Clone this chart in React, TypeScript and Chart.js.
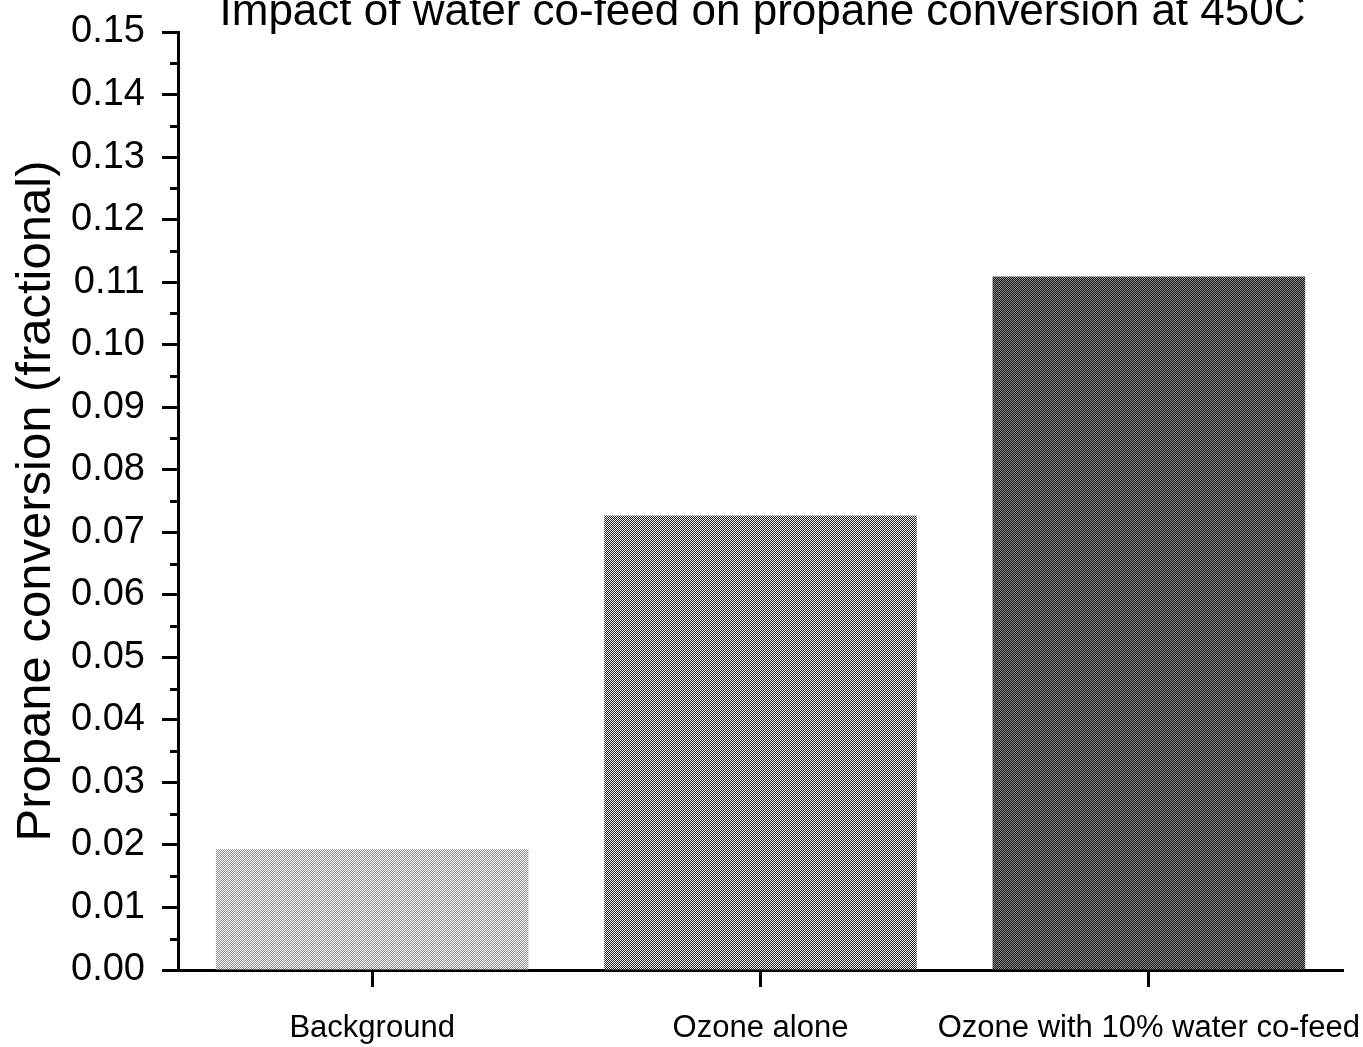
import React, { useEffect, useRef } from "react";
import { Chart, registerables } from "chart.js";

Chart.register(...registerables);

const TITLE = "Impact of water co-feed on propane conversion at 450C";
const Y_TITLE = "Propane conversion (fractional)";
const categories = ["Background", "Ozone alone", "Ozone with 10% water co-feed"];
const conversion = [0.0193, 0.0727, 0.1109];
const Y_MIN = 0;
const Y_MAX = 0.15;
const Y_STEP = 0.01;

// Two-tone 2x2 checker tiles give the halftone look of each bar.
const barTones: [string, string][] = [
  ["#ffffff", "#8c8c8c"],
  ["#f4f4f4", "#222222"],
  ["#8a8a8a", "#161616"],
];

const FONT = '"Liberation Sans", Arial, Helvetica, sans-serif';

function makeChecker(a: string, b: string): CanvasPattern | string {
  const tile = document.createElement("canvas");
  tile.width = 2;
  tile.height = 2;
  const c = tile.getContext("2d");
  if (!c) return b;
  c.fillStyle = a;
  c.fillRect(0, 0, 2, 2);
  c.fillStyle = b;
  c.fillRect(1, 0, 1, 1);
  c.fillRect(0, 1, 1, 1);
  const p = c.createPattern(tile, "repeat");
  return p || b;
}

// Short minor ticks halfway between the labelled y ticks.
const minorTicks = {
  id: "minorTicks",
  afterDraw(chart: any) {
    const y = chart.scales.y;
    const ctx = chart.ctx;
    const ticks = y.ticks;
    ctx.save();
    ctx.strokeStyle = "#000";
    ctx.lineWidth = 3;
    for (let i = 0; i < ticks.length - 1; i++) {
      const v = (ticks[i].value + ticks[i + 1].value) / 2;
      const py = Math.round(y.getPixelForValue(v)) + 0.5;
      ctx.beginPath();
      ctx.moveTo(y.right - 8, py);
      ctx.lineTo(y.right, py);
      ctx.stroke();
    }
    ctx.restore();
  },
};

// Chart heading, sitting right at the top edge of the canvas.
const topTitle = {
  id: "topTitle",
  afterDraw(chart: any) {
    const { ctx, chartArea } = chart;
    ctx.save();
    ctx.fillStyle = "#000";
    ctx.font = `44px ${FONT}`;
    ctx.textAlign = "center";
    ctx.textBaseline = "alphabetic";
    ctx.fillText(TITLE, (chartArea.left + chartArea.right) / 2 + 2, 25);
    ctx.restore();
  },
};

export default function App() {
  const canvasRef = useRef<HTMLCanvasElement | null>(null);

  useEffect(() => {
    const canvas = canvasRef.current;
    if (!canvas) return;
    const fills = barTones.map(([a, b]) => makeChecker(a, b));

    const chart = new Chart(canvas, {
      type: "bar",
      data: {
        labels: categories,
        datasets: [
          {
            data: conversion,
            backgroundColor: fills as any,
            borderWidth: 0,
            barPercentage: 0.805,
            categoryPercentage: 1,
          },
        ],
      },
      options: {
        animation: false,
        responsive: true,
        maintainAspectRatio: false,
        layout: { padding: { top: 32, right: 20, bottom: 0, left: 0 } },
        plugins: {
          legend: { display: false },
          tooltip: { enabled: false },
          title: { display: false },
        },
        scales: {
          x: {
            z: 1,
            offset: true,
            grid: {
              offset: false,
              drawOnChartArea: false,
              drawTicks: true,
              tickLength: 17,
              tickWidth: 3,
              tickColor: "#000",
            },
            border: { display: true, color: "#000", width: 3 },
            ticks: {
              color: "#000",
              font: { family: FONT, size: 31 },
              padding: 23,
              autoSkip: false,
              maxRotation: 0,
              minRotation: 0,
            },
            afterFit(scale: any) {
              scale.height = 77;
              scale.paddingLeft = 0;
              scale.paddingRight = 0;
            },
          },
          y: {
            z: 1,
            min: Y_MIN,
            max: Y_MAX,
            grid: {
              drawOnChartArea: false,
              drawTicks: true,
              tickLength: 16,
              tickWidth: 3,
              tickColor: "#000",
            },
            border: { display: true, color: "#000", width: 3 },
            ticks: {
              stepSize: Y_STEP,
              color: "#000",
              font: { family: FONT, size: 38 },
              padding: 17,
              callback: (v: any) => Number(v).toFixed(2),
            },
            title: {
              display: true,
              text: Y_TITLE,
              color: "#000",
              font: { family: FONT, size: 49 },
              padding: { top: 7, bottom: 0 },
            },
            afterFit(scale: any) {
              scale.width = 178;
              scale.paddingTop = 0;
              scale.paddingBottom = 0;
            },
          },
        },
      },
      plugins: [minorTicks, topTitle],
    });

    return () => chart.destroy();
  }, []);

  return (
    <div
      style={{
        position: "absolute",
        left: 0,
        top: 0,
        width: 1363,
        height: 1047,
        background: "#fff",
      }}
    >
      <canvas ref={canvasRef} />
    </div>
  );
}
